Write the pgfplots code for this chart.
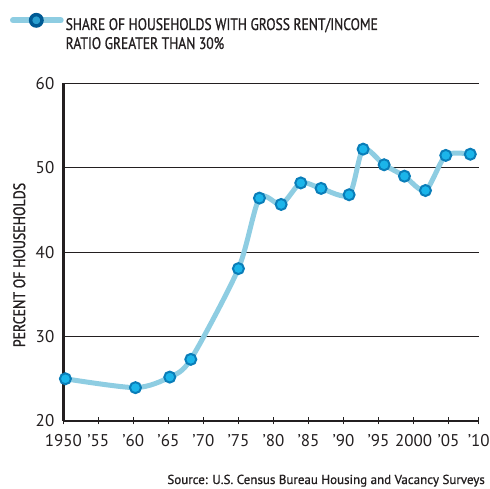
\documentclass[border=0pt]{standalone}
\usepackage{pgfplots}
\pgfplotsset{compat=1.18}
\usepackage{fontspec}
\setmainfont{PT Sans}
\newfontfamily\dinfont{PT Sans}[FakeStretch=0.81, FakeBold=1]
\newfontfamily\dinlabel{PT Sans}[FakeStretch=0.83, FakeBold=1]
\newfontfamily\dinsrc{PT Sans}[FakeBold=0.8]
\definecolor{linecol}{HTML}{8ECDE2}
\definecolor{markfill}{HTML}{1BB5EA}
\definecolor{markedge}{HTML}{0A7DB8}
\definecolor{legring}{HTML}{005A94}
\definecolor{legfill}{HTML}{2A9FD0}
\definecolor{axiscol}{HTML}{231F20}
\begin{document}
\begin{tikzpicture}[x=1pt,y=1pt]
\useasboundingbox (-63.3,-68) rectangle (426.7,421);
\begin{axis}[
    at={(0,0)}, anchor=south west,
    scale only axis, width=415.4pt, height=337.7pt,
    xmin=1950, xmax=2009.3, ymin=20, ymax=60,
    axis lines=left,
    axis line style={-, line width=2.5pt, color=axiscol},
    xtick={1950,1955,1960,1965,1970,1975,1980,1985,1990,1995,2000,2005,2009.3},
    xticklabels={1950,’55,’60,’65,’70,’75,’80,’85,’90,’95,2000,’05,’10},
    ytick={20,30,40,50,60},
    ymajorgrids,
    major grid style={axiscol, line width=1pt},
    tick align=center,
    major tick length=7pt,
    xtick style={axiscol, line width=1.2pt},
    ytick style={draw=none},
    /pgf/number format/assume math mode=true,
    tick label style={font=\fontsize{17}{20}\selectfont, text=axiscol},
    xticklabel style={yshift=-6pt},
    yticklabel style={xshift=-2pt},
    ylabel={PERCENT OF HOUSEHOLDS},
    ylabel style={at={(axis description cs:-0.106,0.462)}, anchor=center,
        font=\dinlabel\fontsize{16.7}{20}\selectfont, text=axiscol},
    legend style={at={(axis description cs:-0.1283,1.2086)}, anchor=north west,
        draw=none, fill=none, inner sep=0pt, outer sep=0pt,
        cells={align=left, inner sep=0pt},
        font=\dinfont\fontsize{16.7}{19}\selectfont, text=axiscol},
    legend cell align=left,
    legend image code/.code={
        \draw[linecol, line width=6pt, line cap=round] (0pt,14pt) -- (47.7pt,14pt);
        \draw[legring, line width=3.5pt, fill=legfill] (23.3pt,14pt) circle (5.7pt);
    },
    legend style={/tikz/every even column/.append style={column sep=14pt}},
]
\addplot[linecol, line width=5pt, smooth, tension=0.45,
    mark=*, mark size=5.5pt,
    mark options={fill=markfill, draw=markedge, line width=2pt}]
coordinates {
(1950.3,25.0) (1960.3,23.95) (1965.2,25.2) (1968.2,27.3) (1975.0,38.05)
(1978.0,46.4) (1981.1,45.65) (1983.9,48.2) (1986.8,47.55) (1990.8,46.8)
(1992.8,52.2) (1995.8,50.35) (1998.7,49.0) (2001.7,47.3) (2004.6,51.46)
(2008.1,51.6)
};
\addlegendentry{SHARE OF HOUSEHOLDS WITH GROSS RENT/INCOME\\RATIO GREATER THAN 30\%}
\end{axis}
\node[anchor=base east, inner sep=0pt, text=axiscol,
    font=\dinsrc\fontsize{13}{15}\selectfont] at (421.7,-63)
    {Source: U.S. Census Bureau Housing and Vacancy Surveys};
\end{tikzpicture}
\end{document}
